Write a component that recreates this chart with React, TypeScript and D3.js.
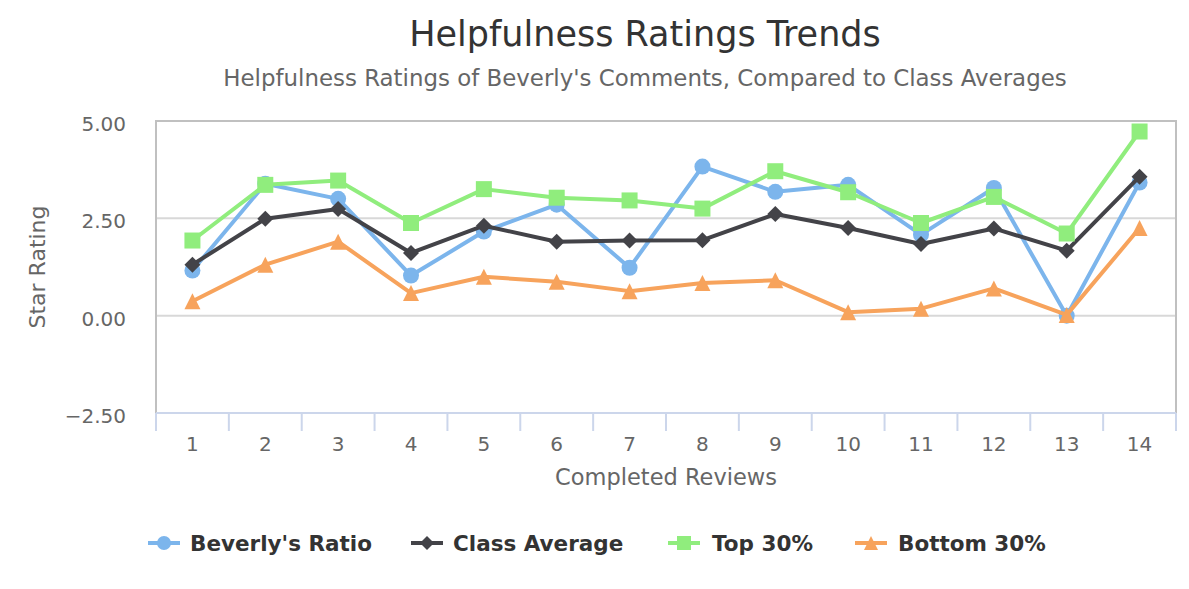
import React from "react";
import * as d3 from "d3";

const categories = ["1","2","3","4","5","6","7","8","9","10","11","12","13","14"];
const beverly = [1.16, 3.39, 3.0, 1.03, 2.16, 2.85, 1.23, 3.83, 3.18, 3.36, 2.08, 3.28, 0.0, 3.42];
const classAvg = [1.31, 2.49, 2.74, 1.61, 2.31, 1.9, 1.93, 1.94, 2.61, 2.25, 1.84, 2.24, 1.67, 3.57];
const top30 = [1.93, 3.36, 3.47, 2.38, 3.25, 3.03, 2.96, 2.75, 3.71, 3.17, 2.38, 3.05, 2.11, 4.73];
const bottom30 = [0.37, 1.31, 1.9, 0.58, 1.0, 0.87, 0.63, 0.84, 0.91, 0.09, 0.18, 0.7, 0.02, 2.25];
const yTicks = [-2.5, 0, 2.5, 5];

const seriesNames = ["Beverly's Ratio", "Class Average", "Top 30%", "Bottom 30%"];
const seriesColors = ["#7cb5ec", "#434348", "#90ed7d", "#f7a35c"];
const seriesSymbols = ["circle", "diamond", "square", "triangle"];
const seriesData = [beverly, classAvg, top30, bottom30];

const FONT = "'DejaVu Sans', sans-serif";

function Marker({ kind, x, y, color, r = 8 }: { kind: string; x: number; y: number; color: string; r?: number }) {
  if (kind === "circle") return <circle cx={x} cy={y} r={r} fill={color} />;
  if (kind === "square") return <rect x={x - r} y={y - r} width={2 * r} height={2 * r} fill={color} />;
  if (kind === "diamond")
    return <path d={`M${x},${y - r} L${x + r},${y} L${x},${y + r} L${x - r},${y} Z`} fill={color} />;
  return <path d={`M${x},${y - r} L${x + r},${y + r} L${x - r},${y + r} Z`} fill={color} />;
}

export default function App() {
  const W = 1189, H = 589;
  const left = 156, right = 1176, top = 121, bottom = 413;
  const x = d3.scaleBand<string>().domain(categories).range([left, right]);
  const y = d3.scaleLinear().domain([-2.5, 5]).range([bottom, top]);
  const line = d3.line<number>().x((_, i) => (x(categories[i]) as number) + x.bandwidth() / 2).y((d) => y(d));
  const tickPos = [...categories.map((c) => x(c) as number), right];

  const legendLineX = [148, 411, 668, 855];
  const legendTextX = [190, 453, 712, 898];
  const legendY = 543;

  return (
    <svg width={W} height={H} style={{ position: "absolute", left: 0, top: 0 }} fontFamily={FONT}>
      <rect width={W} height={H} fill="#fff" />
      <text x={645} y={46} textAnchor="middle" fontSize={35} fill="#333">Helpfulness Ratings Trends</text>
      <text x={645} y={86} textAnchor="middle" fontSize={22.9} fill="#666">
        Helpfulness Ratings of Beverly's Comments, Compared to Class Averages
      </text>

      {yTicks.filter((t) => t !== -2.5 && t !== 5).map((t) => (
        <line key={t} x1={left} x2={right} y1={y(t)} y2={y(t)} stroke="#d8d8d8" strokeWidth={2} />
      ))}
      <rect x={left} y={top} width={right - left} height={bottom - top} fill="none" stroke="#c0c0c0" strokeWidth={2} />
      <line x1={left} x2={right} y1={bottom} y2={bottom} stroke="#ccd6eb" strokeWidth={2} />
      {tickPos.map((p, i) => (
        <line key={i} x1={p} x2={p} y1={bottom} y2={bottom + 18} stroke="#ccd6eb" strokeWidth={2} />
      ))}

      {yTicks.map((t) => (
        <text key={t} x={126} y={y(t) + 10} textAnchor="end" fontSize={20} fill="#666">
          {t < 0 ? "\u2212" + Math.abs(t).toFixed(2) : t.toFixed(2)}
        </text>
      ))}
      <text transform={`translate(45,${(top + bottom) / 2}) rotate(-90)`} textAnchor="middle" fontSize={22} fill="#666">
        Star Rating
      </text>

      {categories.map((c) => (
        <text key={c} x={(x(c) as number) + x.bandwidth() / 2} y={451} textAnchor="middle" fontSize={20} fill="#666">
          {c}
        </text>
      ))}
      <text x={(left + right) / 2} y={485} textAnchor="middle" fontSize={22.5} fill="#666">Completed Reviews</text>

      {seriesData.map((data, si) => (
        <g key={si}>
          <path d={line(data) || ""} fill="none" stroke={seriesColors[si]} strokeWidth={4} strokeLinejoin="round" strokeLinecap="round" />
          {data.map((v, i) => (
            <Marker key={i} kind={seriesSymbols[si]} x={(x(categories[i]) as number) + x.bandwidth() / 2} y={y(v)} color={seriesColors[si]} />
          ))}
        </g>
      ))}

      {seriesNames.map((n, i) => (
        <g key={n}>
          <line x1={legendLineX[i]} x2={legendLineX[i] + 32} y1={legendY} y2={legendY} stroke={seriesColors[i]} strokeWidth={4} />
          <Marker kind={seriesSymbols[i]} x={legendLineX[i] + 16} y={legendY} color={seriesColors[i]} r={7} />
          <text x={legendTextX[i]} y={legendY + 8} fontSize={21.5} fontWeight="bold" fill="#333">{n}</text>
        </g>
      ))}
    </svg>
  );
}
